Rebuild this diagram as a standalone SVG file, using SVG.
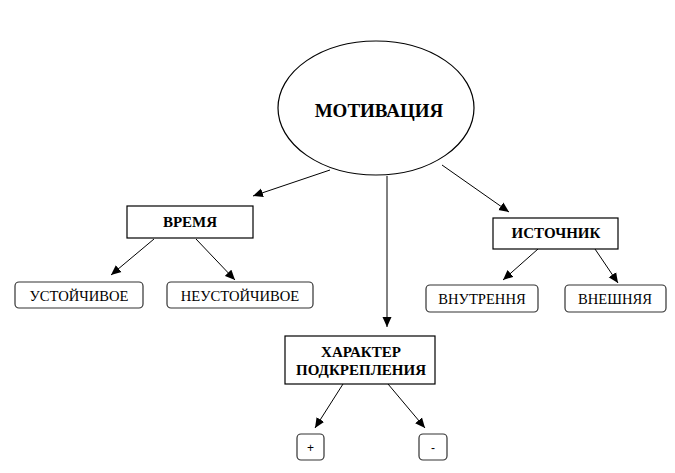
<svg xmlns="http://www.w3.org/2000/svg" width="675" height="473" viewBox="0 0 675 473">
<defs>
<marker id="arr" viewBox="0 0 10 10" refX="10" refY="5" markerWidth="10" markerHeight="10" markerUnits="userSpaceOnUse" orient="auto">
<path d="M0,0.5 L10,5 L0,9.5 z" fill="#000"/>
</marker>
<style>
.node{fill:#fff;stroke:#000;stroke-width:1.2}
.rnd{fill:#fff;stroke:#333;stroke-width:1.2}
.b{font-family:"Liberation Serif","Times New Roman",serif;font-weight:bold;font-size:15px;text-anchor:middle;fill:#000}
.n{font-family:"Liberation Serif","Times New Roman",serif;font-size:14.6px;text-anchor:middle;fill:#000}
.s{font-family:"Liberation Sans",Arial,sans-serif;font-size:12px;text-anchor:middle;fill:#000}
.c{stroke:#000;stroke-width:1;fill:none;marker-end:url(#arr)}
</style>
</defs>
<rect width="675" height="473" fill="#fff"/>
<g id="connectors">
<line class="c" x1="330" y1="170" x2="253" y2="196"/>
<line class="c" x1="442" y1="165" x2="509" y2="212"/>
<line class="c" x1="387" y1="176" x2="387" y2="327"/>
<line class="c" x1="154" y1="239" x2="111" y2="275"/>
<line class="c" x1="196" y1="239" x2="235" y2="280"/>
<line class="c" x1="538" y1="249" x2="503" y2="280"/>
<line class="c" x1="595" y1="249" x2="618" y2="283"/>
<line class="c" x1="343" y1="384" x2="315" y2="428"/>
<line class="c" x1="388" y1="384" x2="425" y2="428"/>
</g>
<g id="motivation">
<ellipse class="node" cx="376" cy="108" rx="98" ry="67"/>
<text class="b" x="379" y="117" style="font-size:19px">МОТИВАЦИЯ</text>
</g>
<g id="vremya">
<rect class="node" x="127" y="206" width="126" height="32"/>
<text class="b" x="190" y="227">ВРЕМЯ</text>
</g>
<g id="ustoichivoe">
<rect class="rnd" x="15" y="282" width="128" height="26" rx="4"/>
<text class="n" x="79" y="301">УСТОЙЧИВОЕ</text>
</g>
<g id="neustoichivoe">
<rect class="rnd" x="167" y="282" width="146" height="26" rx="4"/>
<text class="n" x="240" y="301">НЕУСТОЙЧИВОЕ</text>
</g>
<g id="istochnik">
<rect class="node" x="493" y="218" width="125" height="31"/>
<text class="b" x="556" y="238">ИСТОЧНИК</text>
</g>
<g id="vnutrennya">
<rect class="rnd" x="426" y="285" width="112" height="27" rx="4"/>
<text class="n" x="482" y="304">ВНУТРЕННЯ</text>
</g>
<g id="vneshnyaya">
<rect class="rnd" x="565" y="285" width="101" height="27" rx="4"/>
<text class="n" x="615" y="304">ВНЕШНЯЯ</text>
</g>
<g id="harakter">
<rect class="node" x="285" y="336" width="150" height="48"/>
<text class="b" x="361" y="357">ХАРАКТЕР</text>
<text class="b" x="361" y="375">ПОДКРЕПЛЕНИЯ</text>
</g>
<g id="plus">
<rect class="rnd" x="297" y="434" width="27" height="26" rx="4"/>
<text class="s" x="310.5" y="452">+</text>
</g>
<g id="minus">
<rect class="rnd" x="419" y="434" width="28" height="26" rx="4"/>
<text class="s" x="433" y="452">-</text>
</g>
</svg>
